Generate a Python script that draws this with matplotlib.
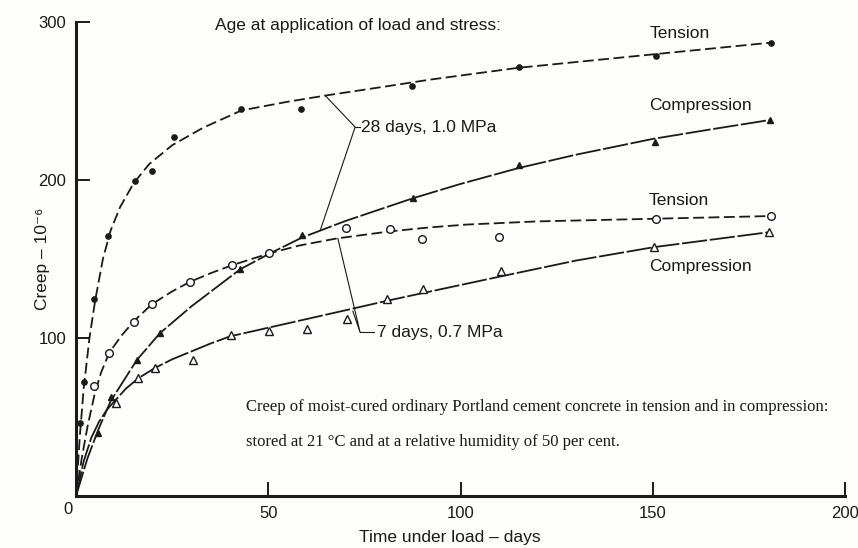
#!/usr/bin/env python3
import matplotlib
matplotlib.use("Agg")
import matplotlib.pyplot as plt

# markers (time in days, creep in 10^-6)
t28_x = [1, 2.1, 4.8, 8.2, 15.3, 19.8, 25.5, 42.8, 58.4, 87.5, 115.3, 150.8, 180.8]
t28_y = [46, 72, 124.7, 164.7, 199.6, 206, 227, 245, 244.7, 259.5, 271.7, 278.5, 286.5]
c28_x = [5.8, 9, 15.8, 21.8, 42.7, 58.7, 87.7, 115.2, 150.6, 180.5]
c28_y = [40, 62.8, 86, 103, 143.5, 165, 188.4, 209.5, 224, 238]
t7_x = [4.8, 8.7, 15.2, 19.8, 29.6, 40.5, 50.2, 70.1, 81.7, 90, 110, 150.8, 180.8]
t7_y = [69.6, 90.7, 110.3, 121.3, 135.6, 146.2, 154, 169.4, 168.8, 162.5, 164, 175.3, 177.2]
c7_x = [10.4, 16.2, 20.5, 30.3, 40.3, 50.2, 60.2, 70.4, 81, 90.3, 110.5, 150.3, 180.3]
c7_y = [58.7, 75, 80.8, 86, 101.9, 104.4, 106, 111.8, 125, 130.8, 142.6, 157.8, 166.9]

# fitted curves
t28_cx = [0, 1, 2, 3.5, 5, 7, 9, 11.5, 15, 19, 25, 33, 43, 55, 65, 80, 92, 115, 150, 181]
t28_cy = [0, 38, 68, 100, 124, 150, 168, 183, 198, 210, 222, 233, 244, 249.5, 253.5, 259, 263.5, 271, 279.5, 287]
c28_cx = [0, 3, 5.8, 9, 15.8, 21.8, 30, 42.7, 50, 58.7, 70, 87.7, 100, 115, 130, 150, 165, 180.5]
c28_cy = [0, 24, 42, 60, 86, 103, 120, 143.5, 153, 163.5, 174, 188.5, 197.5, 207.5, 216, 226, 232, 238]
t7_cx = [0, 1.5, 3, 4.8, 6.5, 8.7, 12, 15.2, 19.8, 25, 29.6, 35, 40.5, 50.2, 58, 67.8, 81.7, 92, 101.6, 120, 150.8, 180.8]
t7_cy = [0, 24, 44, 64, 78, 91, 102, 111, 121.5, 129.5, 135.5, 141, 146, 153.5, 158.5, 163, 167.5, 170, 171.8, 173.8, 175.5, 177.2]
c7_cx = [0, 2, 4, 6, 8, 10, 13, 16.2, 20.5, 25, 30, 35, 40, 50, 60, 70, 80.8, 90.3, 110.5, 130, 150.3, 180.3]
c7_cy = [0, 22, 37, 47, 54.5, 60, 68, 74.5, 81, 86.5, 91.5, 96.5, 101, 106.5, 112, 117.5, 123.5, 128.5, 139, 149, 157.5, 167]

x_ticks = [50, 100, 150, 200]
y_ticks = [100, 200, 300]

sans = ["Liberation Sans", "DejaVu Sans"]
serif = ["Liberation Serif", "DejaVu Serif"]
ink = "#1a1a1a"
fs = 12.5

fig = plt.figure(figsize=(8.58, 5.48), dpi=100, facecolor="#fdfdfb")
ax = fig.add_axes([76 / 858, 52 / 548, 769 / 858, 474 / 548])
ax.set_facecolor("#fdfdfb")

dash_t = (0, (6, 2.5))
dash_c = (0, (14, 1.5))
ax.plot(t28_cx, t28_cy, color=ink, lw=1.3, linestyle=dash_t, clip_on=False)
ax.plot(c28_cx, c28_cy, color=ink, lw=1.3, linestyle=dash_c, clip_on=False)
ax.plot(t7_cx, t7_cy, color=ink, lw=1.3, linestyle=dash_t, clip_on=False)
ax.plot(c7_cx, c7_cy, color=ink, lw=1.3, linestyle=dash_c, clip_on=False)

ax.plot(t28_x, t28_y, "o", ms=3.8, color=ink, clip_on=False)
ax.plot(c28_x, c28_y, "^", ms=4.2, color=ink, clip_on=False)
ax.plot(t7_x, t7_y, "o", ms=5.5, mfc="white", mec=ink, mew=1, clip_on=False)
ax.plot(c7_x, c7_y, "^", ms=6, mfc="white", mec=ink, mew=1, clip_on=False)

ax.set_xlim(0, 200)
ax.set_ylim(0, 300)
for s in ["top", "right"]:
    ax.spines[s].set_visible(False)
for s in ["left", "bottom"]:
    ax.spines[s].set_linewidth(2.2)
    ax.spines[s].set_color(ink)

ax.set_xticks(x_ticks)
ax.set_yticks(y_ticks)
ax.tick_params(direction="in", length=10, width=1.4, color=ink, pad=7,
               labelsize=12, labelcolor=ink)
for lab in ax.get_xticklabels() + ax.get_yticklabels():
    lab.set_family(sans)
ax.annotate("0", (0, 0), xytext=(-8, -14), textcoords="offset pixels",
            ha="center", va="center", fontsize=12, color=ink, family=sans,
            annotation_clip=False)

ax.set_xlabel("Time under load \u2013 days", fontsize=fs, color=ink, family=sans)
ax.set_ylabel("Creep \u2013 10\u207b\u2076", fontsize=fs, color=ink, family=sans)
ax.xaxis.set_label_coords((450 - 76) / 769, (496 - 530) / 474)
ax.yaxis.set_label_coords((50 - 76) / 769, 0.5)

ax.text(36.2, 298, "Age at application of load and stress:", fontsize=fs,
        color=ink, family=sans, ha="left", va="center")
ax.text(149.3, 293, "Tension", fontsize=fs, color=ink, family=sans, va="center")
ax.text(149, 247, "Compression", fontsize=fs, color=ink, family=sans, va="center")
ax.text(149, 187, "Tension", fontsize=fs, color=ink, family=sans, va="center")
ax.text(149, 145, "Compression", fontsize=fs, color=ink, family=sans, va="center")

# leader lines
lk = dict(color=ink, lw=0.8)
ax.plot([64.8, 72.6, 63.5], [253.5, 233.5, 168], **lk)
ax.plot([72.6, 73.8], [233.5, 233.5], **lk)
ax.text(74.2, 233.5, "28 days, 1.0 MPa", fontsize=fs, color=ink, family=sans, va="center")
ax.plot([68.1, 73.9, 72.0], [163, 103.5, 117], **lk)
ax.plot([73.9, 77.6], [103.5, 103.5], **lk)
ax.text(78.2, 103.5, "7 days, 0.7 MPa", fontsize=fs, color=ink, family=sans, va="center")

ax.text(44.2, 56.3, "Creep of moist-cured ordinary Portland cement concrete in tension and in compression:",
        fontsize=12, color=ink, family=serif, va="center")
ax.text(44.2, 34.2, "stored at 21 \u00b0C and at a relative humidity of 50 per cent.",
        fontsize=12, color=ink, family=serif, va="center")

fig.savefig("out.png", dpi=100, facecolor=fig.get_facecolor())
